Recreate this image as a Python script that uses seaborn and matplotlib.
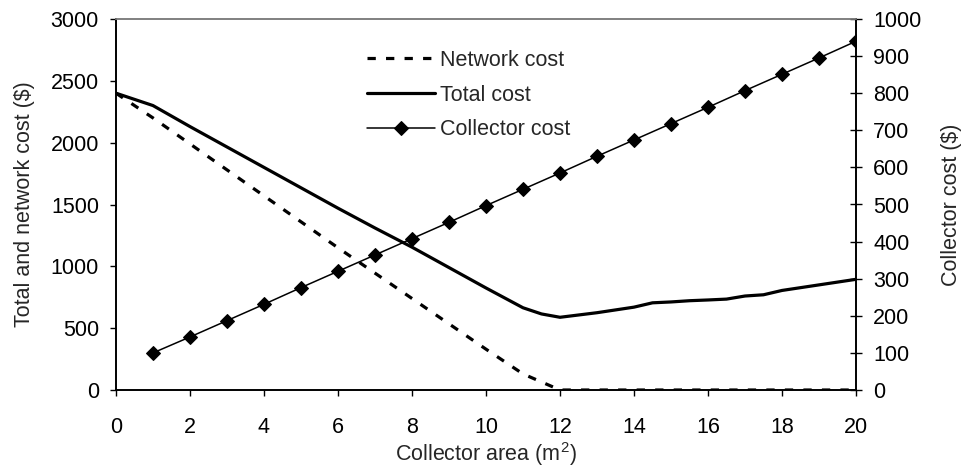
import matplotlib
matplotlib.use("Agg")
import matplotlib.pyplot as plt
import seaborn as sns
import pandas as pd

# ---- data ----
area_total = [0, 1, 2, 3, 4, 5, 6, 7, 8, 9, 10, 11, 11.5, 12, 13, 14, 14.5, 15,
              15.5, 16, 16.5, 17, 17.5, 18, 19, 20]
total_cost = [2400, 2300, 2130, 1965, 1800, 1635, 1470, 1310, 1155, 990, 825, 665,
              615, 588, 625, 670, 705, 712, 722, 728, 735, 760, 770, 805, 850, 895]

area_network = list(range(0, 21))
network_cost = [2400, 2200, 1990, 1780, 1570, 1360, 1150, 945, 740, 535, 330, 130,
                0, 0, 0, 0, 0, 0, 0, 0, 0]

area_collector = list(range(1, 21))
collector_cost = [100, 143, 187, 231, 276, 320, 364, 408, 452, 497, 541, 585, 630,
                  674, 718, 762, 807, 851, 895, 940]

x_ticks = list(range(0, 21, 2))
left_ticks = list(range(0, 3001, 500))
right_ticks = list(range(0, 1001, 100))

# ---- style ----
sns.set_style("white")
plt.rcParams['font.family'] = ['Liberation Sans', 'DejaVu Sans']
plt.rcParams['mathtext.fontset'] = 'custom'
plt.rcParams['mathtext.rm'] = 'Liberation Sans'
plt.rcParams['mathtext.it'] = 'Liberation Sans'
FS = 15.5

fig = plt.figure(figsize=(9.61, 4.73), dpi=100)
ax = fig.add_axes([116 / 961, 1 - 390 / 473, 740 / 961, 371 / 473])
ax2 = ax.twinx()

df_net = pd.DataFrame({"x": area_network, "y": network_cost})
df_tot = pd.DataFrame({"x": area_total, "y": total_cost})
df_col = pd.DataFrame({"x": area_collector, "y": collector_cost})

sns.lineplot(data=df_net, x="x", y="y", ax=ax, color="black", linewidth=2.3,
             label="Network cost", legend=False)
ax.lines[-1].set_dashes((2.6, 3.2))
sns.lineplot(data=df_tot, x="x", y="y", ax=ax, color="black", linewidth=2.3,
             label="Total cost", legend=False)
sns.lineplot(data=df_col, x="x", y="y", ax=ax2, color="black", linewidth=1.1,
             marker="D", markersize=7, markeredgecolor="black",
             label="Collector cost", legend=False)

ax.set_xlim(0, 20)
ax.set_ylim(0, 3000)
ax2.set_ylim(0, 1000)
ax.set_xticks(x_ticks)
ax.set_yticks(left_ticks)
ax2.set_yticks(right_ticks)

ax.set_xlabel("Collector area (m$^2$)", fontsize=FS, labelpad=2)
ax.set_ylabel("Total and network cost ($)", fontsize=FS, labelpad=11)
ax2.set_ylabel("Collector cost ($)", fontsize=FS, labelpad=14)

ax.tick_params(axis="y", direction="out", length=4.3, width=1, pad=8,
               labelsize=FS, left=True, colors="black")
ax.tick_params(axis="x", direction="out", length=4.3, width=1, pad=15,
               labelsize=FS, bottom=True, colors="black")
ax2.tick_params(axis="y", direction="inout", length=9, width=1, pad=8,
                labelsize=FS, right=True, colors="black")

for a in (ax, ax2):
    for s in ("left", "bottom", "right"):
        a.spines[s].set_color("black")
        a.spines[s].set_linewidth(1.2)
    a.spines["top"].set_color("#808080")
    a.spines["top"].set_linewidth(1.2)
    a.grid(False)

handles = [ax.lines[0], ax.lines[1], ax2.lines[0]]
labels = ["Network cost", "Total cost", "Collector cost"]
fig.legend(handles, labels, loc="upper left", bbox_to_anchor=(367 / 961, 1 - 50 / 473),
           frameon=False, fontsize=FS, handlelength=3.15, handletextpad=0.25,
           labelspacing=0.63, borderaxespad=0, borderpad=0)

fig.savefig("out.png", dpi=100)
